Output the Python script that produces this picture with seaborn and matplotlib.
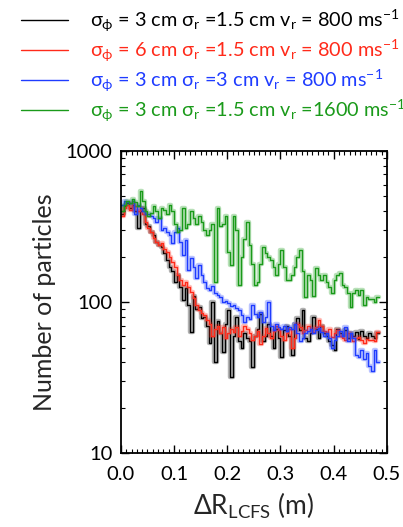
import numpy as np
import pandas as pd
import seaborn as sns
import matplotlib
matplotlib.use("Agg")
import matplotlib.pyplot as plt
from matplotlib.lines import Line2D
from matplotlib.ticker import MultipleLocator, LogLocator, FixedLocator, NullFormatter

BIN_WIDTH = 0.005

black_counts = [380, 430, 450, 420, 440, 400, 310, 400, 420, 330, 320, 290, 280, 250, 240, 230, 210, 190, 170, 160,
                135, 150, 125, 103, 124, 95, 63, 110, 90, 93, 78, 80, 70, 54, 100, 40, 75, 62, 47, 72,
                88, 32, 60, 80, 55, 50, 62, 58, 55, 37, 60, 66, 84, 55, 60, 72, 60, 50, 66, 58,
                43, 65, 70, 60, 45, 72, 78, 65, 88, 58, 55, 62, 80, 66, 58, 70, 62, 60, 55, 52,
                48, 66, 62, 60, 65, 58, 62, 60, 63, 57, 64, 60, 58, 62, 60, 58, 62]
red_counts = [370, 420, 440, 410, 450, 430, 400, 420, 380, 340, 310, 290, 265, 250, 240, 245, 225, 215, 200, 185,
              170, 150, 140, 130, 136, 125, 116, 106, 95, 88, 85, 82, 76, 72, 60, 66, 70, 62, 68, 58,
              62, 66, 63, 68, 60, 64, 70, 66, 62, 56, 60, 64, 53, 60, 67, 62, 58, 64, 70, 65,
              60, 56, 62, 66, 50, 58, 72, 68, 62, 65, 70, 66, 63, 68, 76, 70, 64, 62, 66, 59,
              62, 65, 60, 58, 56, 62, 60, 55, 58, 59, 56, 54, 57, 56, 56, 55, 63]
blue_counts = [440, 470, 460, 450, 470, 380, 440, 420, 400, 380, 380, 370, 360, 340, 360, 300, 310, 290, 280, 245,
               290, 310, 250, 205, 257, 163, 196, 170, 144, 175, 150, 135, 124, 120, 128, 115, 111, 108, 100, 102,
               98, 94, 95, 92, 88, 82, 74, 80, 77, 95, 83, 80, 86, 74, 80, 100, 70, 65, 72, 68,
               66, 70, 64, 68, 66, 72, 62, 55, 58, 62, 64, 66, 62, 65, 67, 63, 60, 62, 58, 50,
               56, 60, 64, 60, 68, 55, 62, 58, 45, 43, 48, 42, 46, 38, 35, 48, 40]
green_counts = [400, 440, 470, 450, 480, 460, 430, 540, 470, 400, 370, 390, 430, 400, 360, 420, 410, 380, 440, 400,
                330, 290, 300, 420, 310, 330, 400, 360, 330, 370, 340, 300, 280, 300, 330, 135, 420, 320, 330, 370,
                215, 175, 370, 300, 130, 200, 260, 340, 240, 180, 130, 135, 180, 230, 210, 200, 190, 170, 150, 180,
                220, 170, 140, 140, 150, 170, 200, 220, 160, 108, 150, 140, 110, 168, 150, 140, 150, 135, 125, 115,
                140, 150, 155, 130, 125, 115, 93, 115, 120, 112, 120, 95, 108, 105, 105, 100, 108]

series_labels = [
    r"$\sigma_{\phi}$ = 3 cm $\sigma_{r}$ =1.5 cm v$_{r}$ = 800 ms$^{-1}$",
    r"$\sigma_{\phi}$ = 6 cm $\sigma_{r}$ =1.5 cm v$_{r}$ = 800 ms$^{-1}$",
    r"$\sigma_{\phi}$ = 3 cm $\sigma_{r}$ =3 cm v$_{r}$ = 800 ms$^{-1}$",
    r"$\sigma_{\phi}$ = 3 cm $\sigma_{r}$ =1.5 cm v$_{r}$ =1600 ms$^{-1}$",
]
series_colors = ["#000000", "#ff2a1a", "#1f3cff", "#1a9a1a"]
all_counts = [black_counts, red_counts, blue_counts, green_counts]

x_ticks = [0.0, 0.1, 0.2, 0.3, 0.4, 0.5]
x_ticklabels = ["0.0", "0.1", "0.2", "0.3", "0.4", "0.5"]
y_ticks = [10, 100, 1000]
y_ticklabels = ["10", "100", "1000"]

sns.set_theme(style="white")
plt.rcParams["font.family"] = ["Lato", "DejaVu Sans"]
plt.rcParams["mathtext.fontset"] = "custom"
plt.rcParams["mathtext.rm"] = "Lato"
plt.rcParams["mathtext.it"] = "Lato"
plt.rcParams["mathtext.bf"] = "Lato:bold"
plt.rcParams["mathtext.fallback"] = "stixsans"

fig = plt.figure(figsize=(4.03, 5.27), dpi=100)
ax = fig.add_axes([0.300, 0.140, 0.660, 0.5735])

n = len(black_counts)
centers = (np.arange(n) + 0.5) * BIN_WIDTH

for counts, color in zip(all_counts, series_colors):
    df = pd.DataFrame({"x": centers, "w": np.asarray(counts, dtype=float)})
    for lw, a in [(3.2, 0.3), (1.0, 1.0)]:
        sns.histplot(data=df, x="x", weights="w", binwidth=BIN_WIDTH,
                     binrange=(0, n * BIN_WIDTH), element="step", fill=False,
                     color=color, linewidth=lw, alpha=a, ax=ax)

ax.set_yscale("log")
ax.set_xlim(0, 0.5)
ax.set_ylim(10, 1000)

ax.xaxis.set_major_locator(FixedLocator(x_ticks))
ax.set_xticklabels(x_ticklabels)
ax.xaxis.set_minor_locator(MultipleLocator(0.01))
ax.yaxis.set_major_locator(FixedLocator(y_ticks))
ax.set_yticklabels(y_ticklabels)
ax.yaxis.set_minor_locator(LogLocator(base=10, subs=np.arange(2, 10)))
ax.yaxis.set_minor_formatter(NullFormatter())

ax.tick_params(axis="both", which="both", direction="in", top=True, right=True,
               bottom=True, left=True, colors="black", labelsize=14.5)
ax.tick_params(axis="x", which="major", pad=9)
ax.tick_params(axis="y", which="major", pad=6)
ax.tick_params(axis="both", which="major", length=6, width=1.0)
ax.tick_params(axis="both", which="minor", length=3, width=0.8)

for sp in ax.spines.values():
    sp.set_visible(True)
    sp.set_color("black")
    sp.set_linewidth(1.3)

ax.set_xlabel(r"$\Delta$R$_{\mathrm{LCFS}}$ (m)", fontsize=19, labelpad=6)
ax.set_ylabel("Number of particles", fontsize=18, labelpad=7)

handles = [Line2D([0], [0], color=c, lw=1.0) for c in series_colors]
leg = fig.legend(handles, series_labels, loc="upper left", bbox_to_anchor=(0.022, 1.008),
                 frameon=False, fontsize=14.3, handlelength=2.4, handletextpad=1.1,
                 labelspacing=0.2, borderaxespad=0.2)
for txt, c in zip(leg.get_texts(), series_colors):
    txt.set_color(c)

fig.savefig("out.png", dpi=100)
